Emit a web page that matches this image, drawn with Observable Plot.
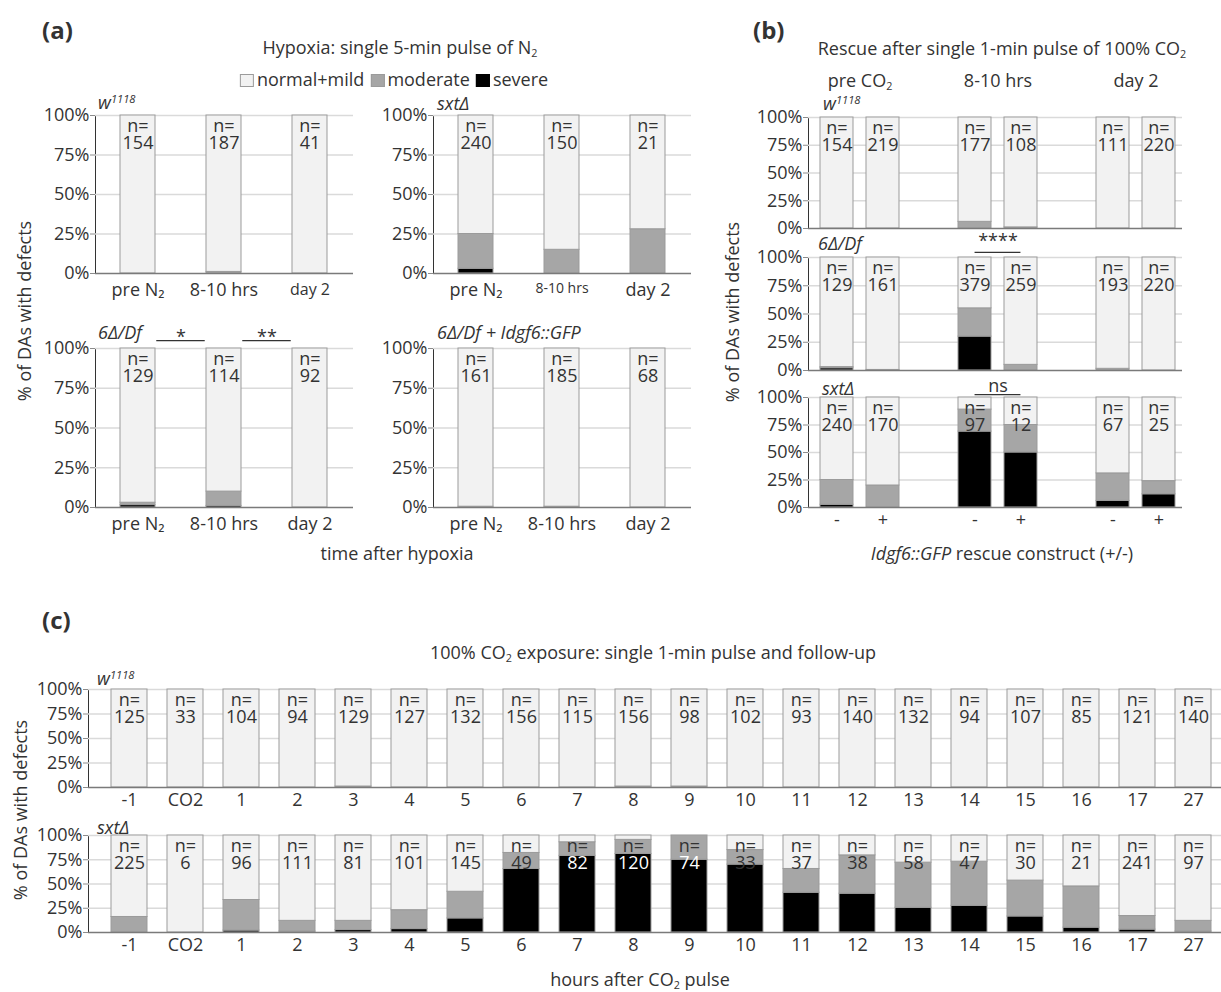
<!DOCTYPE html>
<html><head><meta charset="utf-8">
<script src="https://cdn.jsdelivr.net/npm/d3@7"></script>
<script src="https://cdn.jsdelivr.net/npm/@observablehq/plot@0.6"></script>
<style>
body{margin:0;background:#fff;}
#root{position:relative;width:1221px;height:992px;overflow:hidden;font-family:"Open Sans",sans-serif;color:#333;background:#fff;}
.lbl{position:absolute;white-space:nowrap;line-height:1;}
.lbl sub{font-size:0.6em;vertical-align:-0.3em;line-height:0;}
.lbl sup{font-size:0.62em;vertical-align:0.55em;line-height:0;}
.sw{display:inline-block;width:14px;height:13px;border:1px solid #9b9b9b;box-sizing:border-box;vertical-align:-1px;margin-right:3px;}
</style></head><body><div id="root"></div>
<script>
// ---------- data ----------
const classes = ["normal+mild", "moderate", "severe"];
const classColors = ["#f2f2f2", "#a6a6a6", "#000000"];
const stackOrder = ["severe", "moderate", "normal+mild"];

// panel (a): hypoxia
const aTimes = ["pre N₂", "8-10 hrs", "day 2"];
const aW1118N = [154, 187, 41];
const aW1118Moderate = [0, 1, 0];
const aW1118Severe = [0, 0, 0];
const aSxtN = [240, 150, 21];
const aSxtModerate = [22, 15, 28];
const aSxtSevere = [3, 0, 0];
const aDfN = [129, 114, 92];
const aDfModerate = [1.5, 9, 0];
const aDfSevere = [1.5, 1, 0];
const aGfpN = [161, 185, 68];
const aGfpModerate = [0.5, 0.5, 0];
const aGfpSevere = [0, 0, 0];
const aDfSig = [{a: "pre N₂", b: "8-10 hrs", label: "*"}, {a: "8-10 hrs", b: "day 2", label: "**"}];

// panel (b): rescue
const bGroups = ["pre CO₂", "8-10 hrs", "day 2"];
const bRescue = ["-", "+"];
const bW1118N = [154, 219, 177, 108, 111, 220];
const bW1118Moderate = [0, 0, 6, 1, 0, 0];
const bW1118Severe = [0, 0, 0, 0, 0, 0];
const bDfN = [129, 161, 379, 259, 193, 220];
const bDfModerate = [1, 0.5, 25, 5, 1.5, 0];
const bDfSevere = [2, 0, 30, 0, 0, 0];
const bSxtN = [240, 170, 97, 12, 67, 25];
const bSxtModerate = [22.5, 20, 20, 25, 25, 12];
const bSxtSevere = [2.5, 0, 69, 50, 6, 12];
const bDfSig = [{a: "8-10 hrs|-", b: "8-10 hrs|+", label: "****"}];
const bSxtSig = [{a: "8-10 hrs|-", b: "8-10 hrs|+", label: "ns"}];

// panel (c): CO2 time course
const cHours = ["-1", "CO2", "1", "2", "3", "4", "5", "6", "7", "8", "9", "10", "11", "12", "13", "14", "15", "16", "17", "27"];
const cW1118N = [125, 33, 104, 94, 129, 127, 132, 156, 115, 156, 98, 102, 93, 140, 132, 94, 107, 85, 121, 140];
const cW1118Moderate = [0, 0, 0, 0, 1, 0, 0, 0, 0, 1, 1, 0, 0, 0, 0, 0, 0, 0, 0, 0];
const cW1118Severe = [0, 0, 0, 0, 0, 0, 0, 0, 0, 0, 0, 0, 0, 0, 0, 0, 0, 0, 0, 0];
const cSxtN = [225, 6, 96, 111, 81, 101, 145, 49, 82, 120, 74, 33, 37, 38, 58, 47, 30, 21, 241, 97];
const cSxtModerate = [16, 0, 31.5, 11, 9.5, 19.5, 27.5, 16.5, 14, 14.5, 25, 15, 24.5, 39.5, 46.5, 45.5, 37, 42.5, 14, 11];
const cSxtSevere = [0, 0, 2, 1, 2.5, 3.5, 14.5, 65.5, 79, 81, 75, 70, 41, 40, 25.5, 27.5, 16.5, 5, 3, 1];

// ---------- helpers ----------
const root = document.getElementById("root");
const FONT = "'Open Sans', sans-serif";

function put(html, x, y, {anchor = "middle", size = 18, weight = "normal", rotate = false} = {}) {
  const d = document.createElement("div");
  d.className = "lbl";
  d.innerHTML = html;
  d.style.left = x + "px";
  d.style.top = y + "px";
  d.style.fontSize = size + "px";
  d.style.fontWeight = weight;
  const tx = anchor === "middle" ? "-50%" : anchor === "end" ? "-100%" : "0";
  d.style.transform = `translate(${tx},-50%)` + (rotate ? " rotate(-90deg)" : "");
  root.appendChild(d);
  return d;
}

function makeBars(keys, n, moderate, severe) {
  return keys.map((x, i) => ({x, n: n[i], moderate: moderate[i], severe: severe[i]}));
}

function stackChart({bars, domain, tickFormat, left, top, axisX, rightX, y100, y0, xScale = {}, tickPadding = 10, bottom = 40, showX = true, notes = [], tickFont = {}}) {
  const mt = y100 - top, ml = axisX - left;
  const height = Math.round(y0 - y100 + mt + bottom);
  const width = rightX - left;
  const rows = bars.flatMap(b => [
    {x: b.x, cls: "severe", v: b.severe},
    {x: b.x, cls: "moderate", v: b.moderate},
    {x: b.x, cls: "normal+mild", v: 100 - b.severe - b.moderate}
  ]);
  const onLight = bars.filter(b => b.severe < 74);
  const onDark = bars.filter(b => b.severe >= 74);
  const svg = Plot.plot({
    width, height,
    marginLeft: ml, marginRight: 0, marginTop: mt, marginBottom: bottom,
    style: {fontFamily: FONT, fontSize: "18px", color: "#333", background: "transparent", overflow: "visible"},
    x: {type: "band", domain, tickFormat, tickSize: 0, tickPadding, label: null, axis: showX ? "bottom" : null, ...xScale},
    y: {domain: [0, 100], ticks: [0, 25, 50, 75, 100], tickFormat: d => d + "%", tickSize: 5, tickPadding: 1, label: null, line: true},
    color: {domain: classes, range: classColors},
    marks: [
      Plot.ruleY([25, 50, 75, 100], {stroke: "#dadada", strokeWidth: 1.3}),
      Plot.barY(rows, {x: "x", y: "v", fill: "cls", order: stackOrder, stroke: "#9b9b9b", strokeWidth: 1}),
      Plot.ruleY([0], {stroke: "#7a7a7a", strokeWidth: 1.5}),
      // n labels: two-line text on light segments
      Plot.text(onLight, {x: "x", y: 100, text: d => `n=\n${d.n}`, lineAnchor: "middle", lineHeight: 0.95, dy: 19.5, fill: "#333", fontSize: 18}),
      // on black segments the count is white
      Plot.text(onDark, {x: "x", y: 100, text: () => "n=", dy: 11, fill: "#333", fontSize: 18}),
      Plot.text(onDark, {x: "x", y: 100, text: "n", dy: 28, fill: "#ffffff", fontSize: 18}),
      ...notes
    ]
  });
  svg.style.position = "absolute";
  svg.style.left = left + "px";
  svg.style.top = top + "px";
  svg.querySelectorAll('[aria-label^="y-axis"]').forEach(g => {
    if (g.getAttribute("stroke")) g.setAttribute("stroke", "#8c8c8c");
    g.querySelectorAll("line, path").forEach(e => e.setAttribute("stroke", "#8c8c8c"));
  });
  svg.querySelectorAll('[aria-label^="x-axis"] text').forEach(t => {
    const s = tickFont[t.textContent];
    if (s) t.setAttribute("font-size", s), t.style.fontSize = s + "px";
  });
  root.appendChild(svg);
  return svg;
}

// ---------- panel (a) ----------
put("(a)", 42, 30, {anchor: "start", size: 24, weight: "bold"});
put("Hypoxia: single 5-min pulse of N<sub>2</sub>", 400, 47);
{
  const leg = put("", 394, 79);
  leg.innerHTML = classes.map((c, i) =>
    `<span class="sw" style="background:${classColors[i]};${i === 2 ? "border-color:#000" : ""}"></span>${c}`
  ).join('<span style="display:inline-block;width:6px"></span>');
}
const aPi = 0.59;
const aXScale = {paddingInner: aPi, paddingOuter: aPi / 2};
const aPlotW = 258;
const aStep = aPlotW / aTimes.length, aBw = aStep * (1 - aPi);

stackChart({bars: makeBars(aTimes, aW1118N, aW1118Moderate, aW1118Severe), domain: aTimes,
  left: 0, top: 95, axisX: 95, rightX: 95 + aPlotW, y100: 115, y0: 273, xScale: aXScale, tickFont: {"day 2": 16}});
put("<i>w</i><sup><i>1118</i></sup>", 98, 102, {anchor: "start"});

stackChart({bars: makeBars(aTimes, aSxtN, aSxtModerate, aSxtSevere), domain: aTimes,
  left: 360, top: 95, axisX: 433, rightX: 433 + aPlotW, y100: 115, y0: 273, xScale: aXScale, tickFont: {"8-10 hrs": 14}});
put("<i>sxtΔ</i>", 437, 103, {anchor: "start"});

stackChart({bars: makeBars(aTimes, aDfN, aDfModerate, aDfSevere), domain: aTimes,
  left: 0, top: 320, axisX: 95, rightX: 95 + aPlotW, y100: 348, y0: 507, xScale: aXScale,
  notes: [
    Plot.ruleY(aDfSig, {x1: "a", x2: "b", y: 105, insetLeft: aBw + 1, insetRight: aBw + 1, stroke: "#333", strokeWidth: 1.2}),
    Plot.text(aDfSig, {x: "a", y: 105, text: "label", dx: aStep / 2, dy: 2, lineAnchor: "bottom", fontSize: 18, fill: "#333"})
  ]});
put("<i>6Δ/Df</i>", 98, 332, {anchor: "start"});

stackChart({bars: makeBars(aTimes, aGfpN, aGfpModerate, aGfpSevere), domain: aTimes,
  left: 360, top: 320, axisX: 433, rightX: 433 + aPlotW, y100: 348, y0: 507, xScale: aXScale});
put("<i>6Δ/Df + Idgf6::GFP</i>", 437, 332, {anchor: "start"});

put("time after hypoxia", 397, 553);
put("% of DAs with defects", 24, 311, {rotate: true});

// ---------- panel (b) ----------
put("(b)", 753, 30, {anchor: "start", size: 24, weight: "bold"});
put("Rescue after single 1-min pulse of 100% CO<sub>2</sub>", 1002, 48);
const bDomain = bGroups.flatMap((g, i) => {
  const s = bRescue.map(r => g + "|" + r);
  return i < bGroups.length - 1 ? [...s, "gap" + i] : s;
});
const bKeys = bGroups.flatMap(g => bRescue.map(r => g + "|" + r));
const bFmt = d => d.startsWith("gap") ? "" : d.split("|")[1];
const bPi = 0.28;
const bXScale = {paddingInner: bPi, paddingOuter: bPi / 2, insetLeft: 6};
const bStep = (1182 - 814) / bDomain.length, bBw = bStep * (1 - bPi);
const bHeaderX = [860, 998, 1136];
bGroups.forEach((g, i) => put(g.replace("₂", "<sub>2</sub>"), bHeaderX[i], 80));

stackChart({bars: makeBars(bKeys, bW1118N, bW1118Moderate, bW1118Severe), domain: bDomain, tickFormat: bFmt,
  left: 740, top: 100, axisX: 808, rightX: 1182, y100: 117, y0: 228, xScale: bXScale, showX: false, bottom: 4});
put("<i>w</i><sup><i>1118</i></sup>", 823, 103, {anchor: "start"});

stackChart({bars: makeBars(bKeys, bDfN, bDfModerate, bDfSevere), domain: bDomain, tickFormat: bFmt,
  left: 740, top: 220, axisX: 808, rightX: 1182, y100: 257, y0: 370, xScale: bXScale, showX: false, bottom: 4,
  notes: [
    Plot.ruleY(bDfSig, {x1: "a", x2: "b", y: 104.5, insetLeft: bBw / 2, insetRight: bBw / 2, stroke: "#333", strokeWidth: 1.2}),
    Plot.text(bDfSig, {x: "a", y: 104.5, text: "label", dx: bStep / 2, dy: -5, lineAnchor: "bottom", fontSize: 18, fill: "#333"})
  ]});
put("<i>6Δ/Df</i>", 818, 243, {anchor: "start"});

stackChart({bars: makeBars(bKeys, bSxtN, bSxtModerate, bSxtSevere), domain: bDomain, tickFormat: bFmt,
  left: 740, top: 370, axisX: 808, rightX: 1182, y100: 397, y0: 507, xScale: bXScale, tickPadding: 6,
  notes: [
    Plot.ruleY(bSxtSig, {x1: "a", x2: "b", y: 102.7, insetLeft: bBw / 2, insetRight: bBw / 2, stroke: "#333", strokeWidth: 1.2}),
    Plot.text(bSxtSig, {x: "a", y: 102.7, text: "label", dx: bStep / 2, dy: -8, lineAnchor: "middle", fontSize: 18, fill: "#333"})
  ]});
put("<i>sxtΔ</i>", 822, 388, {anchor: "start"});

put("<i>Idgf6::GFP</i> rescue construct (+/-)", 1002, 553);
put("% of DAs with defects", 732, 312, {rotate: true});

// ---------- panel (c) ----------
put("(c)", 42, 620, {anchor: "start", size: 24, weight: "bold"});
put("100% CO<sub>2</sub> exposure: single 1-min pulse and follow-up", 653, 652);
const cXScale = {paddingInner: 0.36, paddingOuter: 0.18, range: [97, 1225]};

stackChart({bars: makeBars(cHours, cW1118N, cW1118Moderate, cW1118Severe), domain: cHours,
  left: 0, top: 670, axisX: 88, rightX: 1221, y100: 689, y0: 787, xScale: cXScale, tickPadding: 6, bottom: 26});
put("<i>w</i><sup><i>1118</i></sup>", 97, 678, {anchor: "start"});

stackChart({bars: makeBars(cHours, cSxtN, cSxtModerate, cSxtSevere), domain: cHours,
  left: 0, top: 815, axisX: 88, rightX: 1221, y100: 835, y0: 932, xScale: cXScale, tickPadding: 6, bottom: 26});
put("<i>sxtΔ</i>", 97, 827, {anchor: "start"});

put("hours after CO<sub>2</sub> pulse", 640, 979);
put("% of DAs with defects", 20, 810, {rotate: true});
</script></body></html>
